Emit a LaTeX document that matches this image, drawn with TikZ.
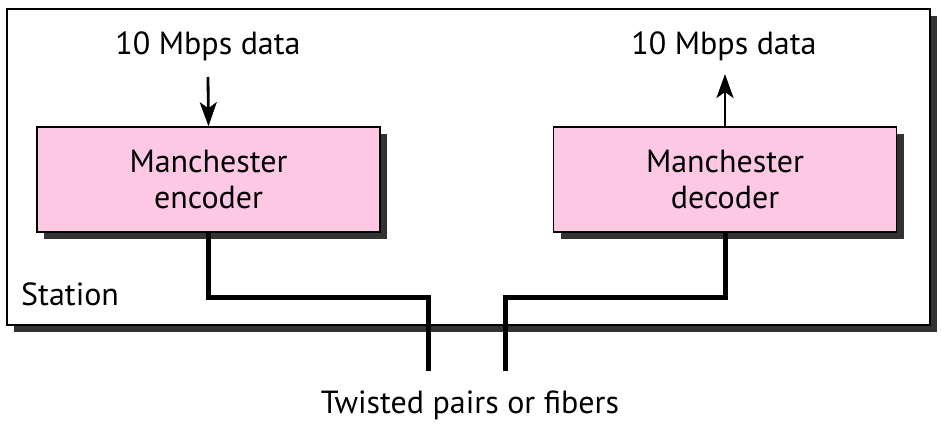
\documentclass[tikz,border=0pt]{standalone}
\usepackage{fontspec}
\setmainfont{PT Sans}
\usetikzlibrary{arrows.meta,shadows}
\definecolor{boxpink}{HTML}{FCC8E4}
\tikzset{
    ombre/.style={drop shadow={shadow xshift=7pt, shadow yshift=-7pt, fill=black!80, opacity=1}},
    codeur/.style={draw=black, line width=1.6pt, fill=boxpink, ombre, minimum width=343pt, minimum height=105pt, align=center, inner sep=0pt},
    fleche/.style={-{Stealth[length=24pt,width=17pt,inset=6pt]}, line width=2.8pt},
    cable/.style={line width=5pt},
    texte/.style={font=\fontsize{32}{36}\selectfont, inner sep=0pt}
}
\begin{document}
\begin{tikzpicture}[x=1pt,y=1pt]
            \useasboundingbox (0,0) rectangle (941,434);
            % la station
            \node[draw=black, line width=2.2pt, fill=white, ombre, minimum width=923pt, minimum height=316pt, inner sep=0pt] (station) at (468.5,267) {};
            \node[texte, anchor=west] (stlabel) at (21,140) {Station};

            % codeur et decodeur
            \node[codeur, texte] (enc) at (208.5,254.5) {Manchester\\encoder};
            \node[codeur, texte] (dec) at (725,254.5) {Manchester\\decoder};

            % les donnees
            \node[texte] (datain) at (208,388) {10 Mbps data};
            \node[texte] (dataout) at (724,388) {10 Mbps data};
            \coordinate (inbeg) at (208,357);
            \coordinate (outend) at (725,360);
            \draw[fleche] (inbeg) -- (enc.north);
            \draw[fleche] (dec.north) -- (outend);

            % les cables
            \coordinate (tpa) at (428,63);
            \coordinate (tpb) at (505,63);
            \draw[cable] (enc.south) -- ++(0,-65) -| (tpa);
            \draw[cable] (dec.south) -- ++(0,-65) -| (tpb);
            \node[texte] (media) at (470,29) {Twisted pairs or fibers};

        \end{tikzpicture}
\end{document}
